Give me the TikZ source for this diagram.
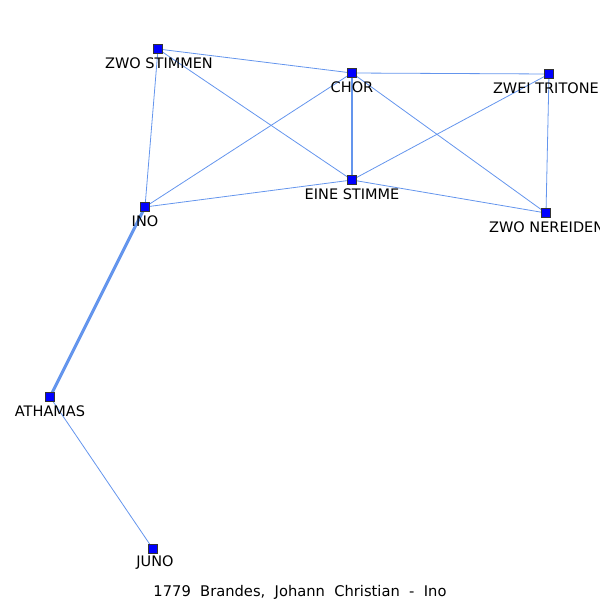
\documentclass[tikz,border=0pt]{standalone}
\usepackage{fontspec}
\setmainfont{DejaVu Sans}
\definecolor{edgeblue}{RGB}{100,149,237}
\definecolor{nodeblue}{RGB}{0,0,255}
\tikzset{
  vert/.style={draw=black!80, fill=nodeblue, line width=0.6pt, minimum size=9pt, inner sep=0pt, rectangle},
  lab/.style={font=\fontsize{14.5pt}{17pt}\selectfont, inner sep=0pt},
  edge/.style={draw=edgeblue, line width=0.8pt},
  edgemid/.style={draw=edgeblue, line width=1.8pt},
  edgethick/.style={draw=edgeblue, line width=3pt}
}
\begin{document}
\begin{tikzpicture}[x=1pt,y=-1pt]
\useasboundingbox (0,0) rectangle (600,600);
\coordinate (zs) at (158,49);
\coordinate (ch) at (352,73);
\coordinate (zt) at (549,74);
\coordinate (es) at (352,180);
\coordinate (ino) at (145,207);
\coordinate (zn) at (546,213);
\coordinate (ath) at (50,397);
\coordinate (ju) at (153,549);
\draw[edge] (zs) -- (ch);
\draw[edge] (zs) -- (ino);
\draw[edge] (zs) -- (es);
\draw[edge] (ch) -- (zt);
\draw[edgemid] (ch) -- (es);
\draw[edge] (ch) -- (ino);
\draw[edge] (ch) -- (zn);
\draw[edge] (zt) -- (es);
\draw[edge] (zt) -- (zn);
\draw[edge] (es) -- (ino);
\draw[edge] (es) -- (zn);
\draw[edgethick] (ino) -- (ath);
\draw[edge] (ath) -- (ju);
\node[vert] (nzs) at (zs) {};
\node[vert] (nch) at (ch) {};
\node[vert] (nzt) at (zt) {};
\node[vert] (nes) at (es) {};
\node[vert] (nino) at (ino) {};
\node[vert] (nzn) at (zn) {};
\node[vert] (nath) at (ath) {};
\node[vert] (nju) at (ju) {};
\node[lab] (lzs) at (159,63) {ZWO STIMMEN};
\node[lab] (lch) at (352,87) {CHOR};
\node[lab, anchor=east] (lzt) at (599,88) {ZWEI TRITONE};
\node[lab] (les) at (352,194) {EINE STIMME};
\node[lab] (lino) at (145,221) {INO};
\node[lab, anchor=west] (lzn) at (489,227) {ZWO NEREIDEN};
\node[lab] (lath) at (50,411) {ATHAMAS};
\node[lab] (lju) at (155,563) {JUNO};
\node[lab, font=\fontsize{14.7pt}{17pt}\selectfont] (title) at (300,592) {1779\ \ Brandes,\ \ Johann\ \ Christian\ \ -\ \ Ino};
\end{tikzpicture}
\end{document}
